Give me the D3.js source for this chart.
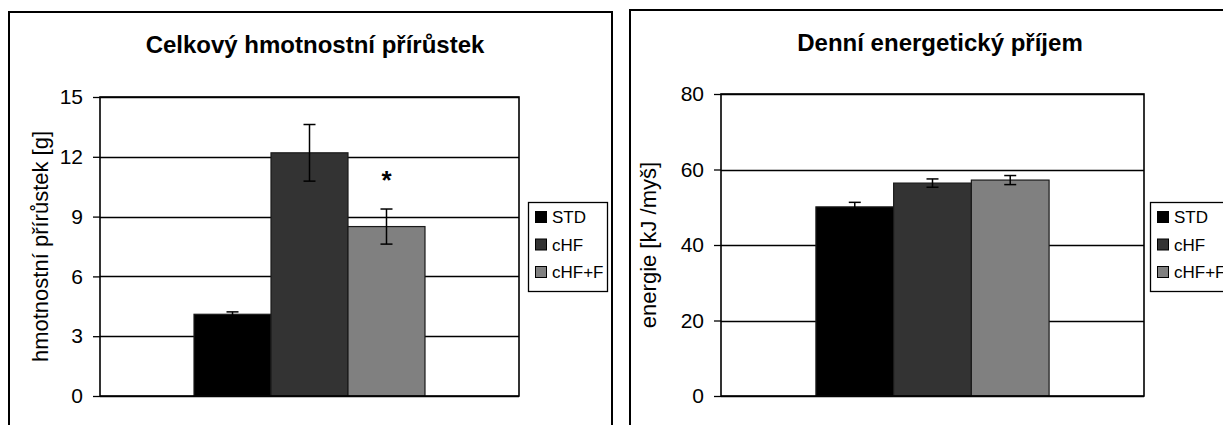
<!DOCTYPE html>
<html>
<head>
<meta charset="utf-8">
<script src="https://cdn.jsdelivr.net/npm/d3@7"></script>
<style>
  body { margin: 0; background: #fff; }
  svg { display: block; }
  svg text { font-family: "Liberation Sans", Arial, sans-serif; fill: #000; }
</style>
</head>
<body>
<script>
const series = ['STD', 'cHF', 'cHF+F']
const colors = ['#000000', '#333333', '#808080']

// Celkový hmotnostní přírůstek
const gainValues = [4.1, 12.2, 8.5]
const gainErrors = [0.12, 1.42, 0.88]
const gainTicks = [0, 3, 6, 9, 12, 15]

// Denní energetický příjem
const energyValues = [50.1, 56.4, 57.2]
const energyErrors = [1.2, 1.1, 1.2]
const energyTicks = [0, 20, 40, 60, 80]

const w = 1223
const h = 425

const svg = d3.select('body')
    .append('svg')
    .attr('width', w)
    .attr('height', h)

function drawChart(opt) {
    const g = svg.append('g')

    // outer frame
    g.append('rect')
        .attr('x', opt.box[0])
        .attr('y', opt.box[1])
        .attr('width', opt.box[2])
        .attr('height', 600)
        .attr('fill', 'none')
        .attr('stroke', '#000')
        .attr('stroke-width', 2)

    g.append('text')
        .attr('x', opt.titleX)
        .attr('y', opt.titleY)
        .attr('text-anchor', 'middle')
        .attr('font-size', 24)
        .attr('font-weight', 'bold')
        .text(opt.title)

    const [left, top, right, bottom] = opt.plot

    const yScale = d3.scaleLinear()
        .domain([0, d3.max(opt.ticks)])
        .range([bottom, top])

    const x0 = d3.scaleBand()
        .domain(['a'])
        .range([left, right])
        .paddingInner(0)
        .paddingOuter(0.407)

    const xScale = d3.scaleBand()
        .domain(series)
        .range([x0('a'), x0('a') + x0.bandwidth()])

    // gridlines
    g.selectAll('.grid')
        .data(opt.ticks)
        .enter()
        .append('line')
        .attr('x1', left)
        .attr('x2', right)
        .attr('y1', d => Math.round(yScale(d)) + 0.5)
        .attr('y2', d => Math.round(yScale(d)) + 0.5)
        .attr('stroke', '#000')
        .attr('stroke-width', 1.3)

    // bars
    g.selectAll('.bar')
        .data(opt.values)
        .enter()
        .append('rect')
        .attr('x', (d, i) => xScale(series[i]))
        .attr('y', d => yScale(d))
        .attr('width', xScale.bandwidth())
        .attr('height', d => bottom - yScale(d))
        .attr('fill', (d, i) => colors[i])
        .attr('stroke', '#1a1a1a')
        .attr('stroke-width', 1.2)

    // error bars
    const err = g.selectAll('.err')
        .data(opt.values)
        .enter()
        .append('g')
        .attr('stroke', '#000')
        .attr('stroke-width', 1.5)
    const cx = (d, i) => xScale(series[i]) + xScale.bandwidth() / 2
    err.append('line')
        .attr('x1', cx).attr('x2', cx)
        .attr('y1', (d, i) => yScale(d + opt.errors[i]))
        .attr('y2', (d, i) => yScale(d - opt.errors[i]))
    err.append('line')
        .attr('x1', (d, i) => cx(d, i) - 6).attr('x2', (d, i) => cx(d, i) + 6)
        .attr('y1', (d, i) => yScale(d + opt.errors[i]))
        .attr('y2', (d, i) => yScale(d + opt.errors[i]))
    err.append('line')
        .attr('x1', (d, i) => cx(d, i) - 6).attr('x2', (d, i) => cx(d, i) + 6)
        .attr('y1', (d, i) => yScale(d - opt.errors[i]))
        .attr('y2', (d, i) => yScale(d - opt.errors[i]))

    // plot frame
    g.append('rect')
        .attr('x', left)
        .attr('y', top)
        .attr('width', right - left)
        .attr('height', bottom - top)
        .attr('fill', 'none')
        .attr('stroke', '#000')
        .attr('stroke-width', 1.6)

    // y axis
    const axis = g.append('g')
        .attr('transform', `translate(${left},0)`)
        .call(d3.axisLeft(yScale).tickValues(opt.ticks).tickSize(7).tickPadding(10))
    axis.select('.domain').remove()
    axis.selectAll('line').attr('stroke', '#000').attr('stroke-width', 1.3)
    axis.selectAll('text')
        .attr('font-size', 21)
        .attr('font-family', null)

    g.append('text')
        .attr('transform', `translate(${opt.yTitleX},${(top + bottom) / 2}) rotate(-90)`)
        .attr('text-anchor', 'middle')
        .attr('dy', '0.35em')
        .attr('font-size', 22)
        .text(opt.yTitle)

    if (opt.star) {
        g.append('text')
            .attr('x', xScale(opt.star[0]) + xScale.bandwidth() / 2)
            .attr('y', yScale(opt.star[1]))
            .attr('text-anchor', 'middle')
            .attr('font-size', 26)
            .attr('font-weight', 'bold')
            .text('*')
    }

    // legend
    const lg = g.append('g').attr('transform', `translate(${opt.legend[0]},${opt.legend[1]})`)
    lg.append('rect')
        .attr('x', 0.5).attr('y', 0.5)
        .attr('width', opt.legend[2]).attr('height', 89)
        .attr('fill', '#fff')
        .attr('stroke', '#000')
        .attr('stroke-width', 1.3)
    const items = lg.selectAll('.item')
        .data(series)
        .enter()
        .append('g')
        .attr('transform', (d, i) => `translate(7,${15 + i * 27.5})`)
    items.append('rect')
        .attr('x', 0.5).attr('y', -5.5)
        .attr('width', 11).attr('height', 11)
        .attr('fill', (d, i) => colors[i])
        .attr('stroke', '#000')
        .attr('stroke-width', 1)
    items.append('text')
        .attr('x', 17)
        .attr('dy', '0.36em')
        .attr('font-size', 17)
        .text(d => d)
}

drawChart({
    box: [9, 12, 603],
    title: 'Celkový hmotnostní přírůstek',
    titleX: 315, titleY: 53,
    plot: [100, 97, 519, 396],
    values: gainValues,
    errors: gainErrors,
    ticks: gainTicks,
    yTitle: 'hmotnostní přírůstek [g]',
    yTitleX: 40,
    star: ['cHF+F', 10.4],
    legend: [528, 202, 79]
})

drawChart({
    box: [630, 10, 640],
    title: 'Denní energetický příjem',
    titleX: 940, titleY: 51,
    plot: [721, 94, 1144, 396],
    values: energyValues,
    errors: energyErrors,
    ticks: energyTicks,
    yTitle: 'energie [kJ /myš]',
    yTitleX: 648,
    star: null,
    legend: [1150, 202, 80]
})
</script>
</body>
</html>
